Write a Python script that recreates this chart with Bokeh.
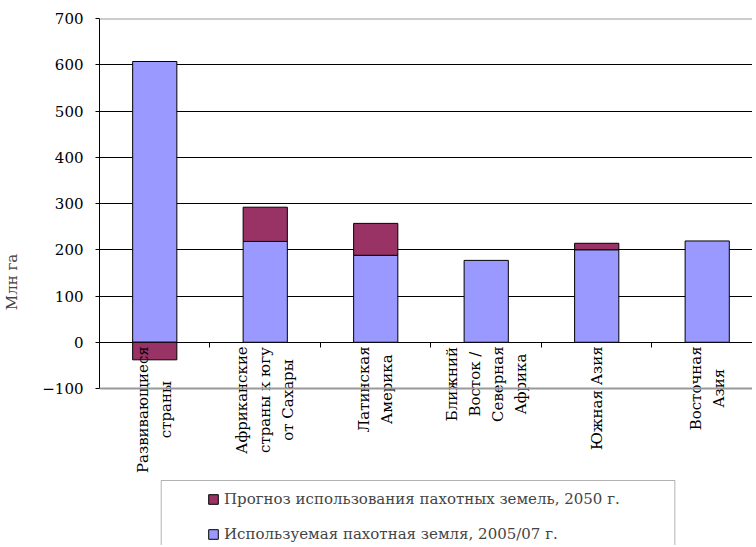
import numpy as np
from bokeh.plotting import figure
from bokeh.models import (Range1d, FixedTicker, LinearAxis, Span, Legend, LegendItem,
                          BoxAnnotation, ColumnDataSource)
from bokeh.core.properties import value
from bokeh.embed import file_html
from bokeh.resources import INLINE

# ---- data ----
categories = ["Развивающиеся\nстраны",
              "Африканские\nстраны к югу\nот Сахары",
              "Латинская\nАмерика",
              "Ближний\nВосток /\nСеверная\nАфрика",
              "Южная Азия",
              "Восточная\nАзия"]
used_2005 = [607, 218, 188, 177, 200, 219]        # Используемая пахотная земля, 2005/07 г.
change_2050 = [-38, 74, 69, 0, 14, 0]              # Прогноз использования пахотных земель, 2050 г.
y_ticks = [-100, 0, 100, 200, 300, 400, 500, 600, 700]

name_used = "Используемая пахотная земля, 2005/07 г."
name_proj = "Прогноз использования пахотных земель, 2050 г."

FONT = "DejaVu Serif"
FS = "15px"
BLUE = "#9999FF"
MAROON = "#993366"

n = len(categories)
xc = np.arange(n) + 0.5
base = np.array(used_2005, dtype=float)
chg = np.array(change_2050, dtype=float)
proj_bottom = np.where(chg >= 0, base, 0.0)
proj_top = np.where(chg >= 0, base + chg, chg)
has_proj = chg != 0

W, H = 752, 545
left_b, top_b = 96, 18
px_per_cat = 111.0
px_per_unit = 0.4625
frame_w = W - left_b
frame_h = H - top_b

p = figure(width=W, height=H, output_backend="svg", toolbar_location=None,
           x_range=Range1d(0, frame_w / px_per_cat),
           y_range=Range1d(700 - frame_h / px_per_unit, 700),
           min_border_left=left_b, min_border_right=0, min_border_top=top_b,
           min_border_bottom=0, x_axis_location=None)
p.outline_line_color = None
p.background_fill_color = "white"

src_used = ColumnDataSource(dict(x=xc, top=base, bottom=np.zeros(n)))
src_proj = ColumnDataSource(dict(x=xc[has_proj], top=proj_top[has_proj], bottom=proj_bottom[has_proj]))

r_used = p.vbar(x="x", top="top", bottom="bottom", width=0.4, source=src_used,
                fill_color=BLUE, line_color="black", line_width=1)
r_proj = p.vbar(x="x", top="top", bottom="bottom", width=0.4, source=src_proj,
                fill_color=MAROON, line_color="black", line_width=1)

# y axis
yax = p.yaxis[0]
yax.ticker = FixedTicker(ticks=y_ticks)
yax.bounds = (-100, 700)
yax.minor_tick_line_color = None
yax.major_tick_out = 4
yax.major_tick_in = 0
yax.major_label_standoff = 12
yax.axis_line_color = "black"
yax.major_tick_line_color = "black"
yax.major_label_text_font = FONT
yax.major_label_text_font_size = FS
yax.major_label_text_color = "black"
yax.axis_label = "Млн га"
yax.axis_label_text_font = FONT
yax.axis_label_text_font_style = "normal"
yax.axis_label_text_font_size = FS
yax.axis_label_standoff = 18

p.ygrid.ticker = FixedTicker(ticks=y_ticks)
p.ygrid.grid_line_color = "black"
p.ygrid.grid_line_width = 1
p.xgrid.grid_line_color = None

# border lines at top and bottom of plot area
p.add_layout(Span(location=700, dimension="width", line_color="#999999", line_width=2))
p.add_layout(Span(location=-100, dimension="width", line_color="#999999", line_width=2))

# category tick marks at the zero line
xax = LinearAxis(ticker=FixedTicker(ticks=list(range(n + 1))), fixed_location=0)
xax.axis_line_color = None
xax.major_tick_out = 5
xax.major_tick_in = 0
xax.minor_tick_line_color = None
xax.major_tick_line_color = "black"
xax.major_label_text_font_size = "0px"
xax.major_label_text_color = None
p.add_layout(xax, "below")

# category labels (rotated, hanging below the zero line)
p.text(x=xc, y=np.zeros(n), text=categories, angle=np.pi / 2,
       anchor="center_right", text_align="center",
       text_font=value(FONT), text_font_size=FS, text_color="black",
       text_line_height=1.28, y_offset=4)

# legend frame
p.add_layout(BoxAnnotation(left=(158 - left_b) / px_per_cat, right=(674 - left_b) / px_per_cat,
                           top=700 - (480 - top_b) / px_per_unit,
                           fill_color="white", fill_alpha=1.0,
                           line_color="black", line_width=1, level="overlay"))

legend = Legend(items=[LegendItem(label=name_proj, renderers=[r_proj]),
                       LegendItem(label=name_used, renderers=[r_used])],
                location=(210 - 6 - left_b, H - 544), orientation="vertical",
                padding=6, margin=0, spacing=15,
                label_height=20, glyph_height=12, glyph_width=12,
                label_standoff=5,
                label_text_font=FONT, label_text_font_size=FS,
                border_line_color=None, background_fill_alpha=0.0)
p.add_layout(legend, "center")

open("out.html", "w").write(file_html(p, INLINE))
